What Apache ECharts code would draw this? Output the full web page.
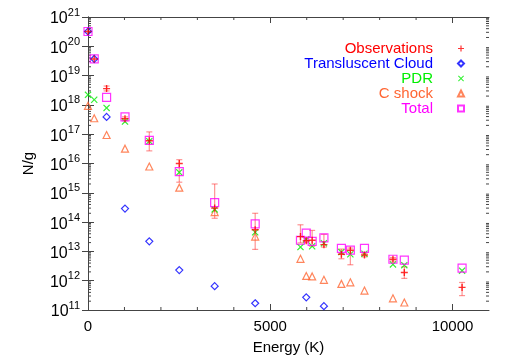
<!DOCTYPE html>
<html>
<head>
<meta charset="utf-8">
<script src="https://cdn.jsdelivr.net/npm/echarts@6/dist/echarts.min.js"></script>
<style>
  html, body { margin: 0; padding: 0; background: #fff; }
  #chart { width: 514px; height: 360px; }
</style>
</head>
<body>
<div id="chart"></div>
<script>
// level energies (K)
const energies = [0, 170.5, 509.9, 1015.1, 1681.6, 2503.9, 3474.5, 4586.1, 5828.5, 5986.9,
                  6149.0, 6471.4, 6951.3, 7196.7, 7584.0, 8365.0, 8677.1, 10261.4];
// N/g for each component (null = not drawn)
const observations = [3.2e20, 3.7e19, 3.6e18, 3.4e17, 6.0e16, 1.0e16, 3.0e14, 5.5e13, 3.2e13, 2.3e13,
                      2.4e13, 1.7e13, 8.0e12, 1.1e13, 7.5e12, 5.4e12, 1.9e12, 5.9e11];
const obsLow  = [null, null, 3.0e18, 2.9e17, 2.7e16, 2.3e15, 1.35e14, 1.17e13, 1.95e13, 2.0e13,
                 1.5e13, 1.4e13, 5.6e12, 3.5e12, 6.5e12, 4.7e12, 1.2e12, 3.1e11];
const obsHigh = [null, null, 4.4e18, 3.9e17, 1.2e17, 1.35e16, 2.0e15, 2.0e14, 8.1e13, 2.7e13,
                 5.2e13, 3.8e13, 1.2e13, 1.3e13, 8.6e12, 6.2e12, 3.0e12, 8.7e11];
const translucent = [3.2e20, 3.7e19, 3.9e17, 2.9e14, 2.2e13, 2.3e12, 6.5e11, 1.7e11, null, 2.7e11,
                     null, 1.35e11, null, null, null, null, null, null];
const pdr = [2.2e18, 1.5e18, 7.9e17, 2.7e17, 5.8e16, 5.0e15, 2.7e14, 4.5e13, 1.4e13, 2.6e13,
             1.5e13, 1.9e13, 9.5e12, 8.0e12, 8.3e12, 3.6e12, 3.4e12, 2.2e12];
const cshock = [9.3e17, 3.5e17, 9.4e16, 3.2e16, 7.9e15, 1.5e15, 2.2e14, 3.2e13, 5.6e12, 1.45e12,
                1.4e12, 1.07e12, 7.8e11, 8.8e11, 4.6e11, 2.5e11, 1.8e11, null];
const total = [3.2e20, 3.7e19, 1.8e18, 3.9e17, 6.2e16, 5.3e15, 4.6e14, 8.7e13, 2.4e13, 4.2e13,
               2.2e13, 2.9e13, 1.26e13, 1.1e13, 1.26e13, 5.4e12, 5.0e12, 2.7e12];

// axis ticks
const xMajorTicks = [0, 5000, 10000];
const xMinorTicks = [1000, 2000, 3000, 4000, 6000, 7000, 8000, 9000];
const yDecades = [1e11, 1e12, 1e13, 1e14, 1e15, 1e16, 1e17, 1e18, 1e19, 1e20, 1e21];
const yMinorFactors = [2, 3, 4, 5, 6, 7, 8, 9];

const X_MIN = 0, X_MAX = 11000, Y_MIN = 1e11, Y_MAX = 1e21;
const FONT = "'Liberation Sans', Arial, sans-serif";
const AXIS_COLOR = '#444';

function pairs(vals) {
  const out = [];
  vals.forEach((v, i) => { if (v != null) out.push([energies[i], v]); });
  return out;
}

const errData = [];
energies.forEach((e, i) => {
  if (obsLow[i] != null) errData.push([e, obsLow[i], obsHigh[i]]);
});

const yMinor = [];
yDecades.slice(0, -1).forEach(d => yMinorFactors.forEach(f => yMinor.push([X_MIN, d * f])));
const xMinor = xMinorTicks.map(v => [v, Y_MIN]);

const PLUS = 'path://M4,0H6V4H10V6H6V10H4V6H0V4H4Z';
const CROSS = 'path://M1.2,0L5,3.8L8.8,0L10,1.2L6.2,5L10,8.8L8.8,10L5,6.2L1.2,10L0,8.8L3.8,5L0,1.2Z';

const cRed = '#ff0000', cBlue = '#0000ff', cGreen = '#00ee00', cOrange = '#ff6633', cMag = '#ff00ff';

const chart = echarts.init(document.getElementById('chart'));

function supLabel(v) {
  const e = Math.round(Math.log10(v));
  return '{b|10}{s|' + e + '}';
}

const option = {
  animation: false,
  grid: { left: 88, right: 25, top: 17, bottom: 45 },
  legend: {
    orient: 'vertical',
    right: 44,
    top: 36,
    align: 'right',
    itemWidth: 6,
    itemHeight: 6,
    itemGap: 0,
    selectedMode: false,
    textStyle: { fontSize: 15, fontFamily: FONT, lineHeight: 15, padding: [0, 20, 0, 0] },
    data: [
      { name: 'Observations', textStyle: { color: cRed } },
      { name: 'Transluscent Cloud', textStyle: { color: cBlue } },
      { name: 'PDR', textStyle: { color: cGreen } },
      { name: 'C shock', textStyle: { color: cOrange } },
      { name: 'Total', textStyle: { color: cMag } }
    ]
  },
  xAxis: [
    {
      type: 'value', min: X_MIN, max: X_MAX, position: 'bottom',
      name: 'Energy (K)', nameLocation: 'middle', nameGap: 30,
      nameTextStyle: { fontSize: 15, fontFamily: FONT, color: '#000' },
      splitLine: { show: false },
      axisLine: { show: true, lineStyle: { color: AXIS_COLOR } },
      axisTick: { show: true, inside: true, length: 6, customValues: xMajorTicks, lineStyle: { color: AXIS_COLOR } },
      axisLabel: {
        customValues: xMajorTicks, fontSize: 15, fontFamily: FONT, color: '#000', margin: 9,
        formatter: v => String(v)
      }
    },
    {
      type: 'value', min: X_MIN, max: X_MAX, position: 'top',
      splitLine: { show: false },
      axisLine: { show: true, lineStyle: { color: AXIS_COLOR } },
      axisTick: { show: true, inside: true, length: 6, customValues: xMajorTicks, lineStyle: { color: AXIS_COLOR } },
      axisLabel: { show: false }
    }
  ],
  yAxis: [
    {
      type: 'log', logBase: 10, min: Y_MIN, max: Y_MAX, position: 'left', splitNumber: 10,
      name: 'N/g', nameLocation: 'middle', nameGap: 52, nameRotate: 90,
      nameTextStyle: { fontSize: 15, fontFamily: FONT, color: '#000' },
      splitLine: { show: false },
      axisLine: { show: true, lineStyle: { color: AXIS_COLOR } },
      axisTick: { show: true, inside: true, length: 6, lineStyle: { color: AXIS_COLOR } },
      axisLabel: {
        margin: 8, formatter: supLabel,
        showMinLabel: true, showMaxLabel: true, hideOverlap: false,
        rich: {
          b: { fontSize: 16, fontFamily: FONT, color: '#000', verticalAlign: 'bottom' },
          s: { fontSize: 11, fontFamily: FONT, color: '#000', verticalAlign: 'bottom', padding: [0, 0, 9, 0] }
        }
      }
    },
    {
      type: 'log', logBase: 10, min: Y_MIN, max: Y_MAX, position: 'right', splitNumber: 10,
      splitLine: { show: false },
      axisLine: { show: true, lineStyle: { color: AXIS_COLOR } },
      axisTick: { show: true, inside: true, length: 6, lineStyle: { color: AXIS_COLOR } },
      axisLabel: { show: false }
    }
  ],
  series: [
    {
      // minor ticks on the log axis (left and right edges)
      type: 'custom', name: 'yminor', silent: true, z: 1,
      data: yMinor,
      renderItem: function (params, api) {
        const v = api.value(1);
        const l = api.coord([X_MIN, v]);
        const r = api.coord([X_MAX, v]);
        const st = { stroke: AXIS_COLOR, lineWidth: 1 };
        return { type: 'group', children: [
          { type: 'line', shape: { x1: l[0], y1: l[1], x2: l[0] + 3, y2: l[1] }, style: st },
          { type: 'line', shape: { x1: r[0] - 3, y1: r[1], x2: r[0], y2: r[1] }, style: st }
        ] };
      }
    },
    {
      // minor ticks on the energy axis (bottom and top edges)
      type: 'custom', name: 'xminor', silent: true, z: 1,
      data: xMinor,
      renderItem: function (params, api) {
        const v = api.value(0);
        const b = api.coord([v, Y_MIN]);
        const t = api.coord([v, Y_MAX]);
        const st = { stroke: AXIS_COLOR, lineWidth: 1 };
        return { type: 'group', children: [
          { type: 'line', shape: { x1: b[0], y1: b[1], x2: b[0], y2: b[1] - 3 }, style: st },
          { type: 'line', shape: { x1: t[0], y1: t[1], x2: t[0], y2: t[1] + 3 }, style: st }
        ] };
      }
    },
    {
      // observation error bars
      type: 'custom', name: 'obsErr', silent: true, z: 2,
      data: errData,
      encode: { x: 0, y: [1, 2] },
      renderItem: function (params, api) {
        const x = api.value(0);
        const lo = api.coord([x, api.value(1)]);
        const hi = api.coord([x, api.value(2)]);
        const st = { stroke: 'rgba(255,40,40,0.5)', lineWidth: 1.2 };
        return { type: 'group', children: [
          { type: 'line', shape: { x1: lo[0], y1: lo[1], x2: hi[0], y2: hi[1] }, style: st },
          { type: 'line', shape: { x1: lo[0] - 3, y1: lo[1], x2: lo[0] + 3, y2: lo[1] }, style: st },
          { type: 'line', shape: { x1: hi[0] - 3, y1: hi[1], x2: hi[0] + 3, y2: hi[1] }, style: st }
        ] };
      }
    },
    {
      name: 'C shock', type: 'scatter', z: 3, data: pairs(cshock),
      symbol: 'triangle', symbolSize: 7,
      itemStyle: { color: 'rgba(255,255,255,0)', borderColor: cOrange, borderWidth: 1.2 }
    },
    {
      name: 'PDR', type: 'scatter', z: 3, data: pairs(pdr),
      symbol: CROSS, symbolSize: 7, symbolKeepAspect: true,
      itemStyle: { color: cGreen }
    },
    {
      name: 'Total', type: 'scatter', z: 3, data: pairs(total),
      symbol: 'rect', symbolSize: 8,
      itemStyle: { color: 'rgba(255,255,255,0)', borderColor: cMag, borderWidth: 1.2 }
    },
    {
      name: 'Transluscent Cloud', type: 'scatter', z: 3, data: pairs(translucent),
      symbol: 'diamond', symbolSize: 7,
      itemStyle: { color: 'rgba(255,255,255,0)', borderColor: cBlue, borderWidth: 1.2 }
    },
    {
      name: 'Observations', type: 'scatter', z: 3, data: pairs(observations),
      symbol: PLUS, symbolSize: 7, symbolKeepAspect: true,
      itemStyle: { color: cRed }
    }
  ]
};

chart.setOption(option);
</script>
</body>
</html>
